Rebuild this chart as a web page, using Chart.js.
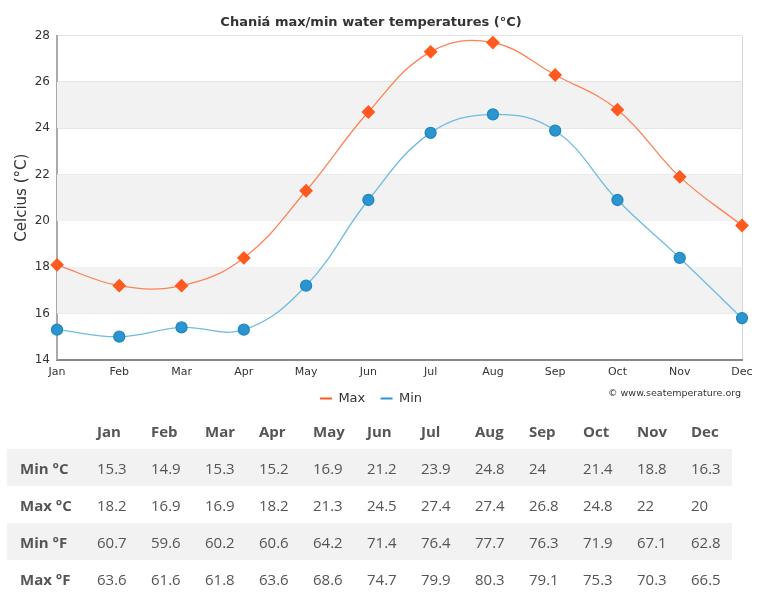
<!DOCTYPE html>
<html>
<head>
<meta charset="utf-8">
<script src="https://cdn.jsdelivr.net/npm/chart.js@4"></script>
<style>
  body { margin: 0; background: #fff; }
  #wrap { position: relative; width: 757px; height: 603px; }
  #chartBox { position: absolute; left: 0; top: 0; width: 757px; height: 415px; }
  #credits {
    position: absolute; right: 16px; top: 387px;
    font: 9.5px "DejaVu Sans", sans-serif; color: #333;
  }
  #tbl {
    position: absolute; left: 7px; top: 412px;
    border-collapse: collapse; font: 15px "Open Sans", sans-serif; color: #555;
  }
  #tbl td, #tbl th { height: 37px; padding: 0; text-align: left; }
  #tbl th { font-weight: bold; }
  #tbl tr.grey { background: #f2f2f2; }
  #tbl .lbl { width: 90px; padding-left: 13px; box-sizing: border-box; font-weight: bold; }
</style>
</head>
<body>
<div id="wrap">
  <div id="chartBox"><canvas id="tempChart"></canvas></div>
  <div id="credits">© www.seatemperature.org</div>
  <table id="tbl"></table>
</div>
<script>
const months = ["Jan", "Feb", "Mar", "Apr", "May", "Jun", "Jul", "Aug", "Sep", "Oct", "Nov", "Dec"];
const maxSeries = [18.1, 17.2, 17.2, 18.4, 21.3, 24.7, 27.3, 27.7, 26.3, 24.8, 21.9, 19.8];
const minSeries = [15.3, 15.0, 15.4, 15.3, 17.2, 20.9, 23.8, 24.6, 23.9, 20.9, 18.4, 15.8];
const yTicks = [14, 16, 18, 20, 22, 24, 26, 28];
const bands = [[16, 18], [20, 22], [24, 26]];

const tableMinC = ["15.3", "14.9", "15.3", "15.2", "16.9", "21.2", "23.9", "24.8", "24", "21.4", "18.8", "16.3"];
const tableMaxC = ["18.2", "16.9", "16.9", "18.2", "21.3", "24.5", "27.4", "27.4", "26.8", "24.8", "22", "20"];
const tableMinF = ["60.7", "59.6", "60.2", "60.6", "64.2", "71.4", "76.4", "77.7", "76.3", "71.9", "67.1", "62.8"];
const tableMaxF = ["63.6", "61.6", "61.8", "63.6", "68.6", "74.7", "79.9", "80.3", "79.1", "75.3", "70.3", "66.5"];

// table below the chart
const tbl = document.getElementById("tbl");
const colW = [54, 54, 54, 54, 54, 54, 54, 54, 54, 54, 54, 41];
let html = "<tr><th class='lbl'></th>" + months.map((m, i) => `<th style="width:${colW[i]}px">${m}</th>`).join("") + "</tr>";
[["Min °C", tableMinC, "grey"], ["Max °C", tableMaxC, ""], ["Min °F", tableMinF, "grey"], ["Max °F", tableMaxF, ""]].forEach((row) => {
  html += `<tr class="${row[2]}"><td class="lbl">${row[0]}</td>` + row[1].map((v) => `<td>${v}</td>`).join("") + "</tr>";
});
tbl.innerHTML = html;

// alternating bands
const bandPlugin = {
  id: "bands",
  beforeDatasetsDraw(chart) {
    const { ctx, chartArea, scales } = chart;
    ctx.save();
    ctx.fillStyle = "#f2f2f2";
    bands.forEach((b) => {
      const y1 = scales.y.getPixelForValue(b[1]);
      const y2 = scales.y.getPixelForValue(b[0]);
      ctx.fillRect(chartArea.left, y1, chartArea.right - chartArea.left, y2 - y1);
    });
    ctx.restore();
  },
};

const font = "'DejaVu Sans', sans-serif";
new Chart(document.getElementById("tempChart").getContext("2d"), {
  type: "line",
  data: {
    labels: months,
    datasets: [
      {
        label: "Max",
        data: maxSeries,
        borderColor: "#ff8257",
        backgroundColor: "#ff5a1f",
        borderWidth: 1.3,
        pointStyle: "rectRot",
        pointRadius: 6,
        pointBackgroundColor: "#ff5a1f",
        pointBorderColor: "#ff5a1f",
        tension: 0.4,
      },
      {
        label: "Min",
        data: minSeries,
        borderColor: "#6fbbe2",
        backgroundColor: "#2b95d0",
        borderWidth: 1.3,
        pointStyle: "circle",
        pointRadius: 5.5,
        pointBackgroundColor: "#2b95d0",
        pointBorderColor: "#2187c2",
        tension: 0.4,
      },
    ],
  },
  options: {
    responsive: true,
    maintainAspectRatio: false,
    animation: false,
    layout: { padding: { left: 0, right: 15, top: 0, bottom: 0 } },
    plugins: {
      title: {
        display: true,
        text: "Chaniá max/min water temperatures (°C)",
        color: "#333",
        font: { family: font, size: 13, weight: "bold" },
        padding: { top: 15, bottom: 5 },
      },
      legend: {
        position: "bottom",
        labels: {
          color: "#333",
          font: { family: font, size: 13 },
          usePointStyle: true,
          pointStyle: "line",
          pointStyleWidth: 12,
          generateLabels(chart) {
            const n = chart.data.datasets.length;
            return chart.data.datasets.map((ds, i) => ({
              // trailing spaces only widen the gap between items
              text: i < n - 1 ? ds.label + "\u00a0\u00a0" : ds.label,
              strokeStyle: ds.backgroundColor,
              fillStyle: ds.backgroundColor,
              lineWidth: 2,
              pointStyle: "line",
              datasetIndex: i,
              fontColor: "#333",
            }));
          },
          boxWidth: 12,
          padding: 7,
        },
      },
      tooltip: { enabled: false },
    },
    scales: {
      x: {
        afterFit(scale) {
          scale.paddingRight = 0;
        },
        grid: {
          drawTicks: false,
          color: (c) => (c.index === months.length - 1 ? "#d8d8d8" : "transparent"),
        },
        border: { color: "#888", width: 2 },
        ticks: { color: "#333", font: { family: font, size: 11 }, padding: 6, maxRotation: 0, autoSkip: false },
      },
      y: {
        min: yTicks[0],
        max: yTicks[yTicks.length - 1],
        afterBuildTicks(scale) {
          scale.ticks = yTicks.map((v) => ({ value: v }));
        },
        afterFit(scale) {
          scale.width = 57;
        },
        grid: { drawTicks: false, color: "#e4e4e4" },
        border: { color: "#aaa", width: 2 },
        title: {
          display: true,
          text: "Celcius (°C)",
          color: "#333",
          font: { family: font, size: 15 },
          padding: { top: 13, bottom: 0 },
        },
        ticks: { color: "#333", font: { family: font, size: 12 }, padding: 7 },
      },
    },
  },
  plugins: [bandPlugin],
});
</script>
</body>
</html>
